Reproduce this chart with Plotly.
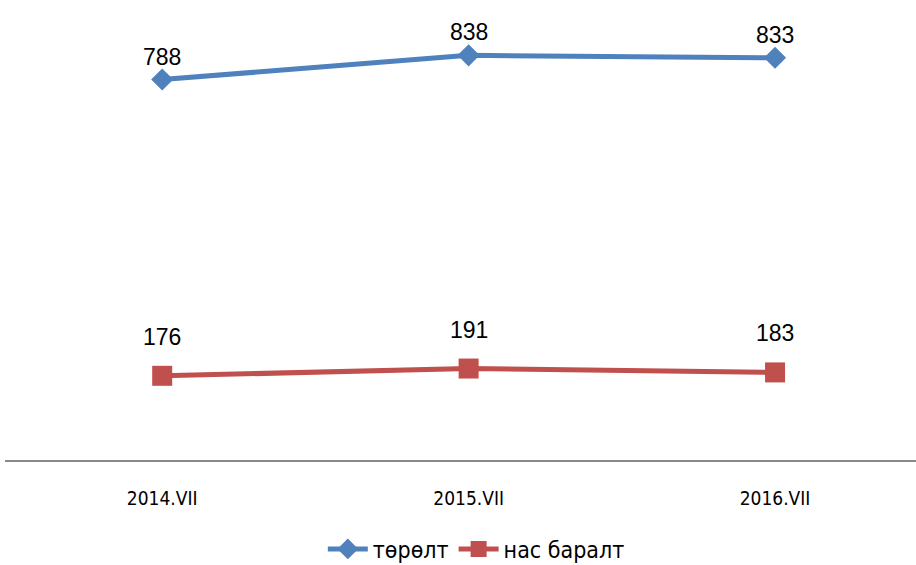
import plotly.graph_objects as go

categories = ["2014.VII", "2015.VII", "2016.VII"]
births = [788, 838, 833]
deaths = [176, 191, 183]
series_names = ["төрөлт", "нас баралт"]

blue = "#4F81BD"
red = "#C0504D"

fig = go.Figure()
fig.add_trace(go.Scatter(x=categories, y=births, name=series_names[0], mode="lines+markers",
                         line=dict(color=blue, width=5),
                         marker=dict(symbol="diamond", size=17, color=blue)))
fig.add_trace(go.Scatter(x=categories, y=deaths, name=series_names[1], mode="lines+markers",
                         line=dict(color=red, width=5),
                         marker=dict(symbol="square", size=20, color=red)))

for c, v in zip(categories, births):
    fig.add_annotation(x=c, y=v, text=str(v), showarrow=False, yshift=23,
                       font=dict(size=23, color="black", family="Liberation Sans, Arial"))
for c, v in zip(categories, deaths):
    fig.add_annotation(x=c, y=v, text=str(v), showarrow=False, yshift=39,
                       font=dict(size=23, color="black", family="Liberation Sans, Arial"))

fig.update_layout(
    width=916, height=565,
    margin=dict(l=5, r=0, t=20, b=104, autoexpand=False),
    paper_bgcolor="white", plot_bgcolor="white",
    showlegend=True,
    legend=dict(orientation="h", xref="container", x=0.52, xanchor="center",
                yref="container", y=1 - 549 / 565, yanchor="middle",
                font=dict(size=23, family="DejaVu Sans Condensed, Liberation Sans, Arial", color="black"),
                itemwidth=40),
    xaxis=dict(range=[-0.513, 2.46], showgrid=False, zeroline=False, showline=False,
               ticks="", ticklabelstandoff=24, automargin=False,
               tickfont=dict(size=19, family="DejaVu Sans Condensed, Liberation Sans, Arial", color="black")),
    yaxis=dict(range=[0, 911], showgrid=False, zeroline=True, zerolinecolor="#888888",
               zerolinewidth=2, showticklabels=False, showline=False, automargin=False),
)
fig.write_html("out.html", config={"displayModeBar": False},
               post_script="document.body.style.margin='0';")
